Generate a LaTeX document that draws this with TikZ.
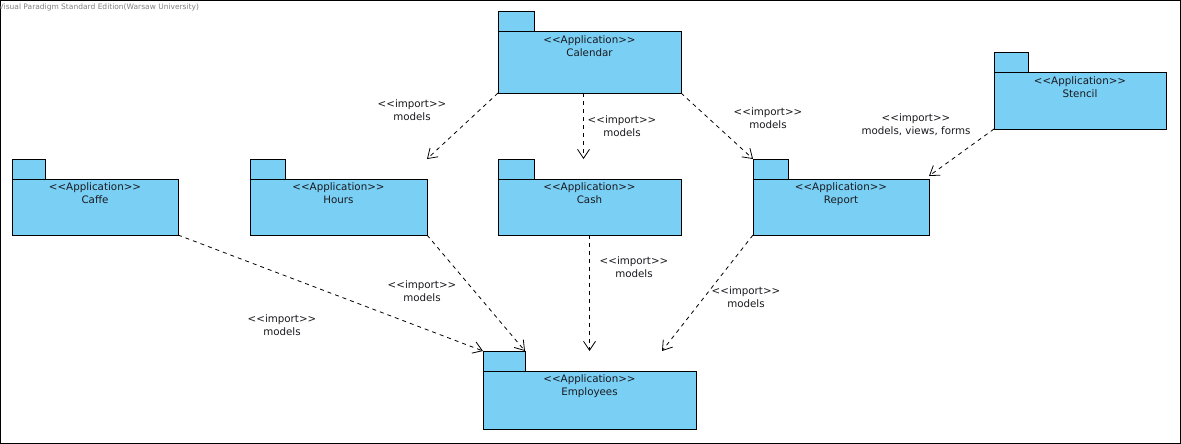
\documentclass[tikz,border=0pt]{standalone}
\usepackage{fontspec}
\setmainfont{DejaVu Sans}
\usetikzlibrary{arrows.meta}
\definecolor{pkgblue}{RGB}{122,207,244}
\definecolor{vpgray}{RGB}{128,128,128}
\definecolor{vptext}{RGB}{25,25,30}

\begin{document}
\begin{tikzpicture}[x=1pt, y=-1pt,
		>={Straight Barb[length=9pt,width=12pt]},
		pkg/.style={draw, fill=pkgblue, line width=1pt, inner sep=0pt, outer sep=0pt},
		pkgtab/.style={pkg, anchor=south west, minimum height=20pt},
		imp/.style={->, dash pattern=on 4pt off 4pt, line width=0.8pt},
		lbl/.style={align=center, inner sep=0pt, text=vptext, font=\fontsize{10.3}{13.3}\selectfont},
		pkgname/.style={lbl, anchor=north, inner sep=3.5pt}
	]
	\useasboundingbox (0,0) rectangle (1181,444);
	\draw[line width=1pt] (0.5,0.5) rectangle (1180.5,443.5);
	\node[anchor=west, inner sep=0pt, text=vpgray, font=\fontsize{7.5}{9}\selectfont] (vp) at (-1.5,7) {Visual Paradigm Standard Edition(Warsaw University)};

	% packages
	\node[pkg, minimum width=183pt, minimum height=61pt, label={[pkgname, name=calTxt]north:{<{}<Application>{}>\\Calendar}}] (cal) at (589.5,62.5) {};
	\node[pkgtab, minimum width=36pt] (calTab) at (cal.north west) {};

	\node[pkg, minimum width=166pt, minimum height=56pt, label={[pkgname, name=caffeTxt]north:{<{}<Application>{}>\\Caffe}}] (caffe) at (95,207) {};
	\node[pkgtab, minimum width=33pt] (caffeTab) at (caffe.north west) {};

	\node[pkg, minimum width=177pt, minimum height=56pt, label={[pkgname, name=hoursTxt]north:{<{}<Application>{}>\\Hours}}] (hours) at (338.5,207) {};
	\node[pkgtab, minimum width=35pt] (hoursTab) at (hours.north west) {};

	\node[pkg, minimum width=183pt, minimum height=56pt, label={[pkgname, name=cashTxt]north:{<{}<Application>{}>\\Cash}}] (cash) at (589.5,207) {};
	\node[pkgtab, minimum width=36pt] (cashTab) at (cash.north west) {};

	\node[pkg, minimum width=176pt, minimum height=56pt, label={[pkgname, name=repTxt]north:{<{}<Application>{}>\\Report}}] (rep) at (841,207) {};
	\node[pkgtab, minimum width=35pt] (repTab) at (rep.north west) {};

	\node[pkg, minimum width=172pt, minimum height=56pt, label={[pkgname, name=stenTxt]north:{<{}<Application>{}>\\Stencil}}] (sten) at (1080,101) {};
	\node[pkgtab, minimum width=34pt] (stenTab) at (sten.north west) {};

	\node[pkg, minimum width=213pt, minimum height=58pt, label={[pkgname, name=empTxt]north:{<{}<Application>{}>\\Employees}}] (emp) at (589.5,400) {};
	\node[pkgtab, minimum width=42pt] (empTab) at (emp.north west) {};

	% imports
	\draw[imp] (cal.south west) -- ([yshift=20pt]hours.north east);
	\draw[imp] ([xshift=-6pt]cal.south) -- ([xshift=-6pt,yshift=20pt]cash.north);
	\draw[imp] (cal.south east) -- (repTab.north west);
	\draw[imp] (sten.south west) -- ([yshift=3pt]rep.north east);
	\draw[imp] (caffe.south east) -- (empTab.north west);
	\draw[imp] (hours.south east) -- (empTab.north east);
	\draw[imp] (cash.south) -- ([yshift=20pt]emp.north);
	\draw[imp] (rep.south west) -- ([xshift=72.5pt,yshift=20pt]emp.north);

	\node[lbl] (calHours) at (412,110) {<{}<import>{}>\\models};
	\node[lbl] (calCash) at (622,126) {<{}<import>{}>\\models};
	\node[lbl] (calRep) at (768,118.5) {<{}<import>{}>\\models};
	\node[lbl] (stenRep) at (916,125) {<{}<import>{}>\\models, views, forms};
	\node[lbl] (caffeEmp) at (282,325) {<{}<import>{}>\\models};
	\node[lbl] (hoursEmp) at (422,291) {<{}<import>{}>\\models};
	\node[lbl] (cashEmp) at (634,267.5) {<{}<import>{}>\\models};
	\node[lbl] (repEmp) at (746,297.5) {<{}<import>{}>\\models};
\end{tikzpicture}
\end{document}
